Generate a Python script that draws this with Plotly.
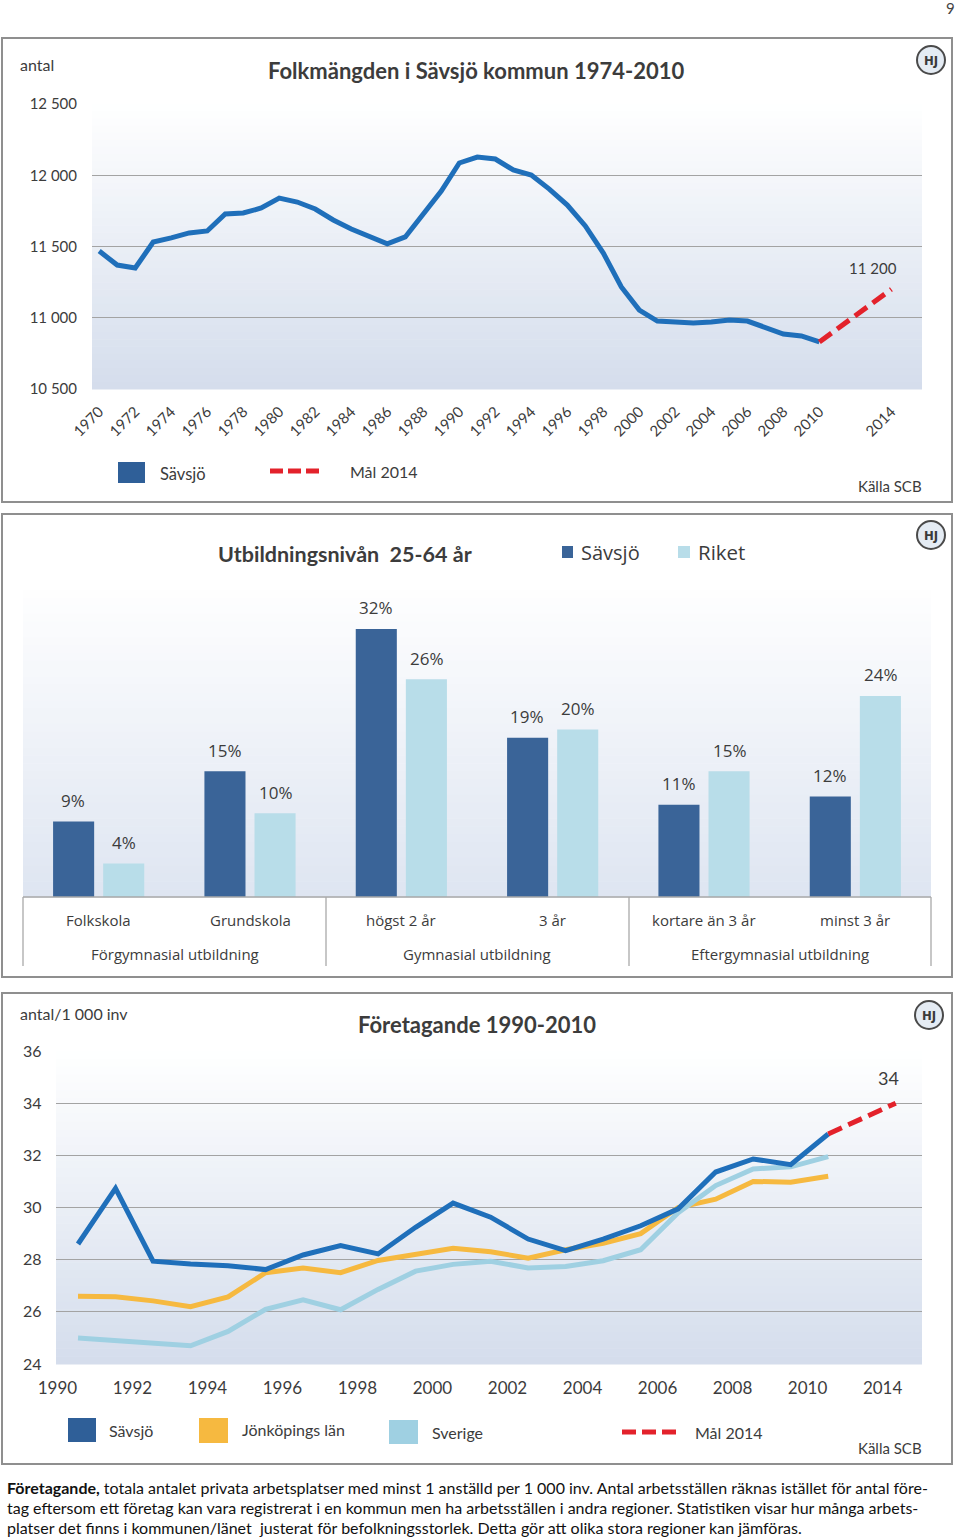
import plotly.graph_objects as go

W, H = 960, 1537
def X(px): return px / W
def Y(py): return 1 - py / H

FONT = "Lato, Roboto, sans-serif"
FONT2 = "Open Sans, Noto Sans, DejaVu Sans, sans-serif"
TXT = "#3c3c3c"

# ---------------- Chart 1: Folkmängden ----------------
pop_years = list(range(1970, 2011))
pop_values = [11468, 11370, 11349, 11531, 11560, 11595, 11609, 11728, 11735, 11770,
              11840, 11812, 11763, 11686, 11623, 11574, 11518, 11567, 11728, 11889,
              12086, 12128, 12114, 12037, 12002, 11903, 11791, 11644, 11454, 11216,
              11054, 10977, 10970, 10963, 10970, 10984, 10977, 10928, 10886, 10872, 10830]
pop_goal_years = [2010, 2014]
pop_goal_values = [10830, 11200]
pop_xticks = list(range(1970, 2011, 2)) + [2014]
pop_yticks = [10500, 11000, 11500, 12000, 12500]
pop_yticktext = ["10 500", "11 000", "11 500", "12 000", "12 500"]

# ---------------- Chart 2: Utbildningsnivå ----------------
edu_categories = ["Folkskola", "Grundskola", "högst 2 år", "3 år", "kortare än 3 år", "minst 3 år"]
edu_groups = ["Förgymnasial utbildning", "Gymnasial utbildning", "Eftergymnasial utbildning"]
edu_savsjo = [9, 15, 32, 19, 11, 12]
edu_riket = [4, 10, 26, 20, 15, 24]

# ---------------- Chart 3: Företagande ----------------
ft_years = list(range(1990, 2011))
ft_savsjo = [28.6, 30.73, 27.94, 27.83, 27.77, 27.62, 28.18, 28.54, 28.22, 29.24,
             30.17, 29.63, 28.79, 28.35, 28.79, 29.3, 29.95, 31.36, 31.86, 31.64, 32.82]
ft_jkpg = [26.6, 26.58, 26.42, 26.2, 26.57, 27.5, 27.68, 27.5, 27.97, 28.19,
           28.44, 28.3, 28.06, 28.38, 28.63, 29.0, 30.0, 30.32, 31.0, 30.97, 31.2]
ft_sverige = [25.0, 24.9, 24.84, 24.7, 25.25, 26.1, 26.46, 26.08, 26.86, 27.56,
              27.82, 27.94, 27.68, 27.74, 27.96, 28.38, 29.8, 30.84, 31.48, 31.56, 31.95]
ft_goal_years = [2010, 2014]
ft_goal_values = [32.82, 34]
ft_ticklabels = ["1990", "1992", "1994", "1996", "1998", "2000", "2002", "2004",
                 "2006", "2008", "2010", "2014"]
ft_yticks = [24, 26, 28, 30, 32, 34, 36]

# compressed axis after 2010 (as in the original chart)
def ft_pos(year):
    return year if year <= 2010 else 2010 + (year - 2010) * 0.45

C_SAV = "#1f6fba"
C_SAV_BAR = "#3a6498"
C_RIKET = "#b8dde9"
C_JKPG = "#f6b940"
C_SVE = "#9fd0e2"
C_GOAL = "#e3222b"
LW = 5
GOAL_DASH = "15px,7px"

fig = go.Figure()

# Chart 1 traces
fig.add_trace(go.Scatter(x=pop_years, y=pop_values, mode="lines",
                         line=dict(color=C_SAV, width=LW), xaxis="x", yaxis="y",
                         showlegend=False, hoverinfo="skip"))
fig.add_trace(go.Scatter(x=pop_goal_years, y=pop_goal_values, mode="lines",
                         line=dict(color=C_GOAL, width=LW, dash=GOAL_DASH), xaxis="x", yaxis="y",
                         showlegend=False, hoverinfo="skip"))

# Chart 2 traces
fig.add_trace(go.Bar(x=edu_categories, y=edu_savsjo, marker_color=C_SAV_BAR,
                     marker_line_width=0, xaxis="x2", yaxis="y2", showlegend=False,
                     hoverinfo="skip"))
fig.add_trace(go.Bar(x=edu_categories, y=edu_riket, marker_color=C_RIKET,
                     marker_line_width=0, xaxis="x2", yaxis="y2", showlegend=False,
                     hoverinfo="skip"))

# Chart 3 traces
fig.add_trace(go.Scatter(x=ft_years, y=ft_jkpg, mode="lines",
                         line=dict(color=C_JKPG, width=LW), xaxis="x3", yaxis="y3",
                         showlegend=False, hoverinfo="skip"))
fig.add_trace(go.Scatter(x=ft_years, y=ft_sverige, mode="lines",
                         line=dict(color=C_SVE, width=LW), xaxis="x3", yaxis="y3",
                         showlegend=False, hoverinfo="skip"))
fig.add_trace(go.Scatter(x=ft_years, y=ft_savsjo, mode="lines",
                         line=dict(color=C_SAV, width=LW), xaxis="x3", yaxis="y3",
                         showlegend=False, hoverinfo="skip"))
fig.add_trace(go.Scatter(x=[ft_pos(v) for v in ft_goal_years], y=ft_goal_values, mode="lines",
                         line=dict(color=C_GOAL, width=LW, dash=GOAL_DASH), xaxis="x3", yaxis="y3",
                         showlegend=False, hoverinfo="skip"))

shapes = []
annotations = []

def txt(px, py, s, size, color=TXT, xanchor="center", yanchor="middle", family=FONT):
    annotations.append(dict(x=X(px), y=Y(py), xref="paper", yref="paper", text=s,
                            showarrow=False, font=dict(size=size, color=color, family=family),
                            xanchor=xanchor, yanchor=yanchor))

def rect(x0, y0, x1, y1, fill=None, line=None, lw=0, layer="below"):
    d = dict(type="rect", xref="paper", yref="paper", x0=X(x0), x1=X(x1), y0=Y(y0), y1=Y(y1),
             layer=layer, line=dict(width=lw, color=line or "rgba(0,0,0,0)"))
    if fill:
        d["fillcolor"] = fill
    shapes.append(d)

def line(x0, y0, x1, y1, color, width, dash="solid"):
    shapes.append(dict(type="line", xref="paper", yref="paper", x0=X(x0), x1=X(x1),
                       y0=Y(y0), y1=Y(y1), line=dict(color=color, width=width, dash=dash)))

def gradient(x0, y0, x1, y1, top=(255, 255, 255), bot=(212, 221, 236), n=40):
    for i in range(n):
        t = (i + 0.5) / n
        c = tuple(int(round(top[k] + (bot[k] - top[k]) * t)) for k in range(3))
        ya = y0 + (y1 - y0) * i / n
        yb = y0 + (y1 - y0) * (i + 1) / n + 0.5
        rect(x0, ya, x1, yb, fill="rgb(%d,%d,%d)" % c)

def logo(cx, cy):
    shapes.append(dict(type="circle", xref="paper", yref="paper", x0=X(cx - 14), x1=X(cx + 14),
                       y0=Y(cy + 14), y1=Y(cy - 14), fillcolor="#e4ebf3",
                       line=dict(color="#4a4a4a", width=2), layer="above"))
    txt(cx, cy + 1, "<b>HJ</b>", 13, color="#3a3a3a", family="DejaVu Sans Condensed, DejaVu Sans, sans-serif")

# Panels
for (t, b) in [(38, 502), (514, 977), (993, 1464)]:
    rect(2, t, 952, b, fill="#ffffff", line="#8f8f8f", lw=2)

# Plot backgrounds
gradient(92, 104, 922, 389)
gradient(23, 582, 931, 897, bot=(222, 229, 241))
gradient(56, 1051, 922, 1364)

# ---- Chart 1 texts ----
txt(476, 70, "<b>Folkmängden i Sävsjö kommun 1974-2010</b>", 22)
txt(18, 64, "antal", 16, xanchor="left")
logo(931, 60)
annotations.append(dict(x=pop_goal_years[-1], y=pop_goal_values[-1], xref="x", yref="y",
                        text="11 200", showarrow=False, xshift=-18, yshift=21,
                        font=dict(size=15, color=TXT, family=FONT)))
rect(118, 462, 145, 483, fill="#2f5f98", layer="above")
txt(158, 474, "Sävsjö", 16.5, xanchor="left")
line(270, 471, 320, 471, C_GOAL, LW, dash="13px,5px")
txt(348, 471, "Mål 2014", 16, xanchor="left")
txt(924, 486, "Källa SCB", 15, xanchor="right")

# ---- Chart 2 texts ----
txt(345, 554, "<b>Utbildningsnivån\u00a0\u00a025-64 år</b>", 21.5)
rect(562, 546, 573, 558, fill=C_SAV_BAR, layer="above")
txt(579, 552, "Sävsjö", 20, xanchor="left", family=FONT2)
rect(678, 546, 690, 558, fill=C_RIKET, layer="above")
txt(696, 552, "Riket", 20.5, xanchor="left", family=FONT2)
logo(931, 535)
for c, v in zip(edu_categories, edu_savsjo):
    annotations.append(dict(x=c, y=v, xref="x2", yref="y2", text="%d%%" % v, showarrow=False,
                            xshift=-25.5, yshift=21, font=dict(size=17, color=TXT, family=FONT2)))
for c, v in zip(edu_categories, edu_riket):
    annotations.append(dict(x=c, y=v, xref="x2", yref="y2", text="%d%%" % v, showarrow=False,
                            xshift=25.5, yshift=21, font=dict(size=17, color=TXT, family=FONT2)))
for c in edu_categories:
    annotations.append(dict(x=c, y=Y(920), xref="x2", yref="paper", text=c, showarrow=False,
                            font=dict(size=15, color=TXT, family=FONT2)))
for gx, g in zip([175, 477, 780], edu_groups):
    txt(gx, 954, g, 15, family=FONT2)
line(23, 897, 931, 897, "#a9a9a9", 1.3)
for vx in [23, 326, 629, 931]:
    line(vx, 897, vx, 966, "#a9a9a9", 1.3)

# ---- Chart 3 texts ----
txt(477, 1024, "<b>Företagande 1990-2010</b>", 22)
txt(18, 1013, "antal/1 000 inv", 16, xanchor="left")
logo(929, 1015)
annotations.append(dict(x=ft_pos(ft_goal_years[-1]), y=ft_goal_values[-1], xref="x3", yref="y3",
                        text="34", showarrow=False, xshift=-7, yshift=25,
                        font=dict(size=18, color=TXT, family=FONT)))
rect(68, 1418, 96, 1442, fill="#2f5f98", layer="above")
txt(107, 1430, "Sävsjö", 16, xanchor="left")
rect(199, 1418, 228, 1443, fill=C_JKPG, layer="above")
txt(240, 1429, "Jönköpings län", 16, xanchor="left")
rect(389, 1420, 418, 1444, fill=C_SVE, layer="above")
txt(430, 1432, "Sverige", 16, xanchor="left")
line(622, 1432, 677, 1432, C_GOAL, LW, dash="14px,6px")
txt(693, 1432, "Mål 2014", 16, xanchor="left")
txt(924, 1448, "Källa SCB", 15, xanchor="right")

# ---- Caption ----
cap = 16
txt(5, 1487, "<b>Företagande,</b> totala antalet privata arbetsplatser med minst 1 anställd per 1 000 inv. Antal arbetsställen räknas istället för antal före-", cap, color="#111111", xanchor="left")
txt(5, 1507, "tag eftersom ett företag kan vara registrerat i en kommun men ha arbetsställen i andra regioner. Statistiken visar hur många arbets-", cap, color="#111111", xanchor="left")
txt(5, 1527, "platser det finns i kommunen/länet \u00a0justerat för befolkningsstorlek. Detta gör att olika stora regioner kan jämföras.", cap, color="#111111", xanchor="left")
txt(957, 8, "9", 15, color="#444444", xanchor="right")

grid = "#a3a3a3"

fig.update_layout(
    template="none",
    width=W, height=H, margin=dict(l=0, r=0, t=0, b=0, autoexpand=False),
    paper_bgcolor="white", plot_bgcolor="rgba(0,0,0,0)",
    showlegend=False, barmode="group", bargap=0.338, bargroupgap=0.18,
    shapes=shapes, annotations=annotations,
    xaxis=dict(domain=[X(92), X(922)], range=[1969.6, 2015.7], tickvals=pop_xticks,
               ticktext=[str(v) for v in pop_xticks], tickangle=-45, showgrid=False,
               zeroline=False, showline=False, ticks="", ticklabelstandoff=10,
               automargin=False,
               tickfont=dict(size=15, color=TXT, family=FONT), anchor="y"),
    yaxis=dict(domain=[Y(389), Y(104)], range=[10500, 12500], tickvals=pop_yticks,
               ticktext=pop_yticktext, showgrid=True, gridcolor=grid, gridwidth=1.3,
               zeroline=False, showline=False, ticks="", ticklabelstandoff=14,
               automargin=False,
               tickfont=dict(size=15, color=TXT, family=FONT), anchor="x"),
    xaxis2=dict(domain=[X(23), X(931)], showticklabels=False, showgrid=False, zeroline=False,
                showline=False, ticks="", automargin=False, anchor="y2"),
    yaxis2=dict(domain=[Y(897), Y(582)], range=[0, 37.6], visible=False, automargin=False,
                anchor="x2"),
    xaxis3=dict(domain=[X(55.5), X(922)], range=[1989.4, 2012.5],
                tickvals=[1989.45 + 2 * i for i in range(len(ft_ticklabels))],
                ticktext=ft_ticklabels, showgrid=False, zeroline=False, showline=False,
                ticks="", ticklabelstandoff=12, automargin=False,
                tickfont=dict(size=17, color=TXT, family=FONT), anchor="y3"),
    yaxis3=dict(domain=[Y(1364), Y(1051)], range=[24, 36], tickvals=ft_yticks,
                showgrid=True, gridcolor=grid, gridwidth=1.3, zeroline=False, showline=False,
                ticks="", ticklabelstandoff=13, automargin=False,
                tickfont=dict(size=16, color=TXT, family=FONT), anchor="x3"),
)

fig.write_html("out.html", config={"displayModeBar": False},
               post_script="document.body.style.margin='0px';document.body.style.padding='0px';")
